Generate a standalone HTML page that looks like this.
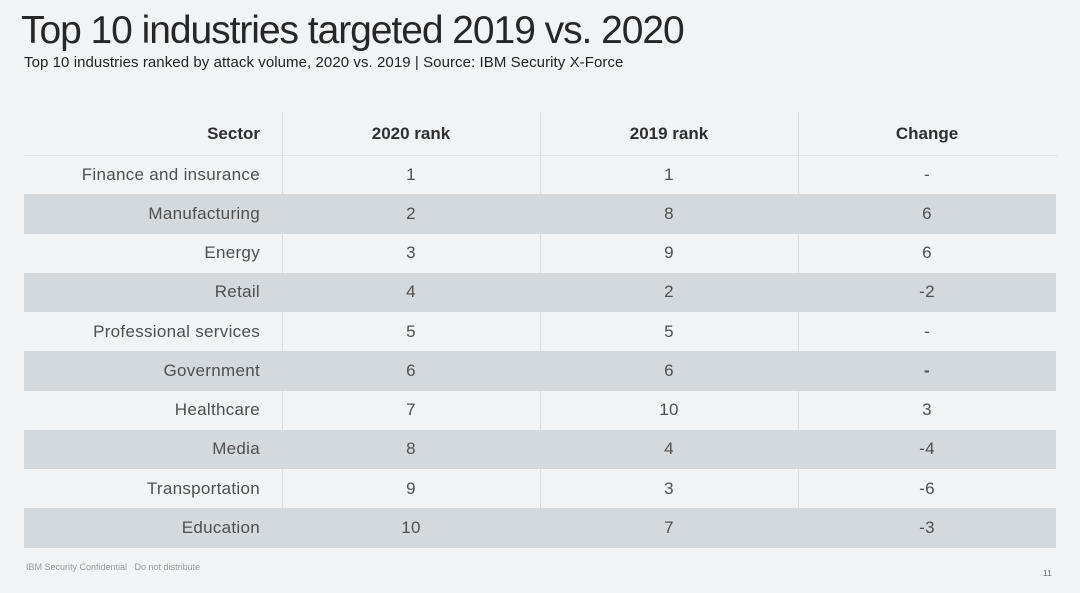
<!DOCTYPE html>
<html>
<head>
<meta charset="utf-8">
<style>
  html,body{margin:0;padding:0;}
  body{width:1080px;height:593px;background:#f2f3f5;position:relative;overflow:hidden;font-family:"Liberation Sans",sans-serif;}
  .title{position:absolute;left:21px;top:8px;font-size:39px;color:#262626;letter-spacing:-1.05px;white-space:nowrap;line-height:46px;}
  .sub{position:absolute;left:24px;top:54px;font-size:15px;color:#222;white-space:nowrap;line-height:18px;letter-spacing:0.07px;}
  .vline{position:absolute;top:112px;width:1px;height:436px;background:#d9dce0;}
  .hline{position:absolute;left:24px;top:155px;width:1034px;height:1px;background:#e0e3e7;}
  .shade{position:absolute;left:24px;width:1032px;height:39.5px;background:#d4d9de;}
  .row{position:absolute;left:24px;width:1032px;height:39.25px;}
  .c{position:absolute;top:0;height:100%;display:flex;align-items:center;font-size:17px;color:#4f4f4f;white-space:nowrap;letter-spacing:0.3px;}
  .c0{left:0;width:236px;justify-content:flex-end;}
  .c1{left:258px;width:258px;justify-content:center;}
  .c2{left:516px;width:258px;justify-content:center;}
  .c3{left:774px;width:258px;justify-content:center;}
  .hdr .c{font-weight:bold;color:#2f2f2f;font-size:17px;letter-spacing:0;}
  .foot{position:absolute;left:26px;top:562px;font-size:9px;color:#9a9a9a;white-space:nowrap;letter-spacing:0;}
  .pg{position:absolute;left:1043px;top:568px;font-size:8.5px;color:#666;}
</style>
</head>
<body>
<div class="title">Top 10 industries targeted 2019 vs. 2020</div>
<div class="sub">Top 10 industries ranked by attack volume, 2020 vs. 2019 | Source: IBM Security X-Force</div>

<div class="vline" style="left:282px"></div>
<div class="vline" style="left:540px"></div>
<div class="vline" style="left:798px"></div>
<div class="hline"></div>

<div class="shade" style="top:194.3px"></div>
<div class="shade" style="top:272.8px"></div>
<div class="shade" style="top:351.3px"></div>
<div class="shade" style="top:429.8px"></div>
<div class="shade" style="top:508.3px"></div>

<div class="row hdr" style="top:113px;height:41px">
  <div class="c c0">Sector</div><div class="c c1">2020 rank</div><div class="c c2">2019 rank</div><div class="c c3">Change</div>
</div>

<div class="row" style="top:155px"><div class="c c0">Finance and insurance</div><div class="c c1">1</div><div class="c c2">1</div><div class="c c3">-</div></div>
<div class="row" style="top:194.3px"><div class="c c0">Manufacturing</div><div class="c c1">2</div><div class="c c2">8</div><div class="c c3">6</div></div>
<div class="row" style="top:233.5px"><div class="c c0">Energy</div><div class="c c1">3</div><div class="c c2">9</div><div class="c c3">6</div></div>
<div class="row" style="top:272.8px"><div class="c c0">Retail</div><div class="c c1">4</div><div class="c c2">2</div><div class="c c3">-2</div></div>
<div class="row" style="top:312px"><div class="c c0">Professional services</div><div class="c c1">5</div><div class="c c2">5</div><div class="c c3">-</div></div>
<div class="row" style="top:351.3px"><div class="c c0">Government</div><div class="c c1">6</div><div class="c c2">6</div><div class="c c3" style="font-weight:bold">-</div></div>
<div class="row" style="top:390.5px"><div class="c c0">Healthcare</div><div class="c c1">7</div><div class="c c2">10</div><div class="c c3">3</div></div>
<div class="row" style="top:429.8px"><div class="c c0">Media</div><div class="c c1">8</div><div class="c c2">4</div><div class="c c3">-4</div></div>
<div class="row" style="top:469px"><div class="c c0">Transportation</div><div class="c c1">9</div><div class="c c2">3</div><div class="c c3">-6</div></div>
<div class="row" style="top:508.3px"><div class="c c0">Education</div><div class="c c1">10</div><div class="c c2">7</div><div class="c c3">-3</div></div>

<div class="foot">IBM Security Confidential&nbsp;&nbsp;&nbsp;Do not distribute</div>
<div class="pg">11</div>
</body>
</html>
